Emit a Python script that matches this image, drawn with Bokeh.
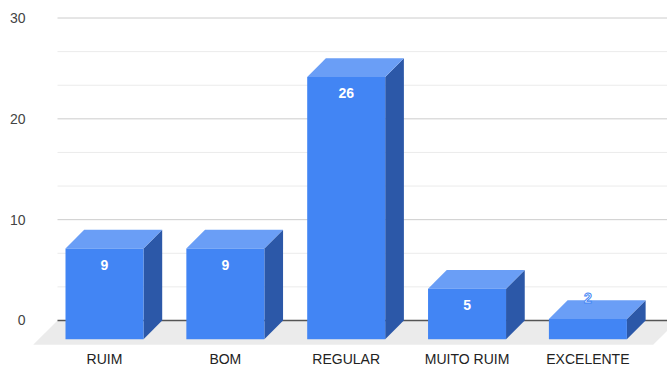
from bokeh.plotting import figure
from bokeh.models import Range1d, FixedTicker, ColumnDataSource
from bokeh.core.properties import value
from bokeh.embed import file_html
from bokeh.resources import INLINE

# Survey answers and counts
categories = ["RUIM", "BOM", "REGULAR", "MUITO RUIM", "EXCELENTE"]
counts = [9, 9, 26, 5, 2]
y_ticks = [0, 10, 20, 30]
y_tick_labels = ["0", "10", "20", "30"]

FONT = "Liberation Sans"
FRONT = "#4285f4"
TOP = "#6a9ef6"
SIDE = "#2c58a8"

# pseudo-3D geometry (data units: one category = 1 on x, one count = 1 on y)
PX_X = 120.85          # pixels per category step
PX_Y = 10.083          # pixels per count
half_w = 39 / PX_X
depth_x = 18.7 / PX_X
depth_y = 18.7 / PX_Y
floor_dx = 24.3 / PX_X
floor_dy = 24.3 / PX_Y

p = figure(width=667, height=367, output_backend="svg", toolbar_location=None,
           x_range=Range1d(-74 / PX_X, 563 / PX_X),
           y_range=Range1d(-47 / PX_Y, 30 + 17.5 / PX_Y),
           min_border_left=30, min_border_right=0, min_border_top=0,
           min_border_bottom=0,
           background_fill_color="white", border_fill_color="white")
p.outline_line_color = None
p.grid.visible = False

# floor plane under the bars
gx0 = -47 / PX_X
gx1 = p.x_range.end + 10 / PX_X
p.patch([gx0, gx1, gx1 - floor_dx, gx0 - floor_dx], [0, 0, -floor_dy, -floor_dy],
        fill_color="#ebebeb", line_color=None)

# horizontal gridlines: major every 10, two minor lines between
minor = [t + k * 10 / 3 for t in y_ticks[:-1] for k in (1, 2)]
p.segment(x0=[gx0] * len(minor), y0=minor, x1=[gx1] * len(minor), y1=minor,
          line_color="#ebebeb", line_width=1)
major = [t for t in y_ticks if t != 0]
p.segment(x0=[gx0] * len(major), y0=major, x1=[gx1] * len(major), y1=major,
          line_color="#cccccc", line_width=1)
p.segment(x0=[gx0], y0=[0], x1=[gx1], y1=[0], line_color="#555555", line_width=1.3)

# bars: front face, top face and right side face
xs_front, ys_front, xs_top, ys_top, xs_side, ys_side = [], [], [], [], [], []
for i, v in enumerate(counts):
    l, r = i - half_w, i + half_w
    xs_front.append([l, r, r, l])
    ys_front.append([-depth_y, -depth_y, v - depth_y, v - depth_y])
    xs_top.append([l, r, r + depth_x, l + depth_x])
    ys_top.append([v - depth_y, v - depth_y, v, v])
    xs_side.append([r, r + depth_x, r + depth_x, r])
    ys_side.append([-depth_y, 0, v, v - depth_y])

p.patches(xs_side, ys_side, fill_color=SIDE, line_color=None)
p.patches(xs_top, ys_top, fill_color=TOP, line_color=None)
p.patches(xs_front, ys_front, fill_color=FRONT, line_color=None)

# value labels: inside the front face when it fits, otherwise above it
inside = [v for v in counts if v >= 3]
lab_in = ColumnDataSource(dict(
    x=[i for i, v in enumerate(counts) if v >= 3],
    y=[v - depth_y - 16.3 / PX_Y for v in inside],
    t=[str(v) for v in inside]))
p.text(x="x", y="y", text="t", source=lab_in, text_color="white",
       text_font=value(FONT), text_font_style="bold", text_font_size="14px",
       text_align="center", text_baseline="middle")
outside = [v for v in counts if v < 3]
lab_out = ColumnDataSource(dict(
    x=[i for i, v in enumerate(counts) if v < 3],
    y=[v - depth_y + 20.6 / PX_Y for v in outside],
    t=[str(v) for v in outside]))
p.text(x="x", y="y", text="t", source=lab_out, text_color="white",
       text_outline_color=FRONT,
       text_font=value(FONT), text_font_style="bold", text_font_size="14px",
       text_align="center", text_baseline="middle")

# axes
p.yaxis.ticker = FixedTicker(ticks=y_ticks)
p.yaxis.major_label_overrides = {t: s for t, s in zip(y_ticks, y_tick_labels)}
p.yaxis.axis_line_color = None
p.yaxis.major_tick_line_color = None
p.yaxis.minor_tick_line_color = None
p.yaxis.major_tick_out = 0
p.yaxis.major_label_standoff = 5
p.yaxis.major_label_text_font = FONT
p.yaxis.major_label_text_font_size = "14px"
p.yaxis.major_label_text_color = "#444444"

# category axis sits just under the floor
p.xaxis.fixed_location = -31 / PX_Y
p.xaxis.ticker = FixedTicker(ticks=list(range(len(categories))))
p.xaxis.major_label_overrides = {i: c for i, c in enumerate(categories)}
p.xaxis.axis_line_color = None
p.xaxis.major_tick_line_color = None
p.xaxis.minor_tick_line_color = None
p.xaxis.major_tick_out = 0
p.xaxis.major_tick_in = 0
p.xaxis.major_label_standoff = 0
p.xaxis.major_label_text_font = FONT
p.xaxis.major_label_text_font_size = "14px"
p.xaxis.major_label_text_color = "#222222"

open("out.html", "w").write(file_html(p, INLINE))
